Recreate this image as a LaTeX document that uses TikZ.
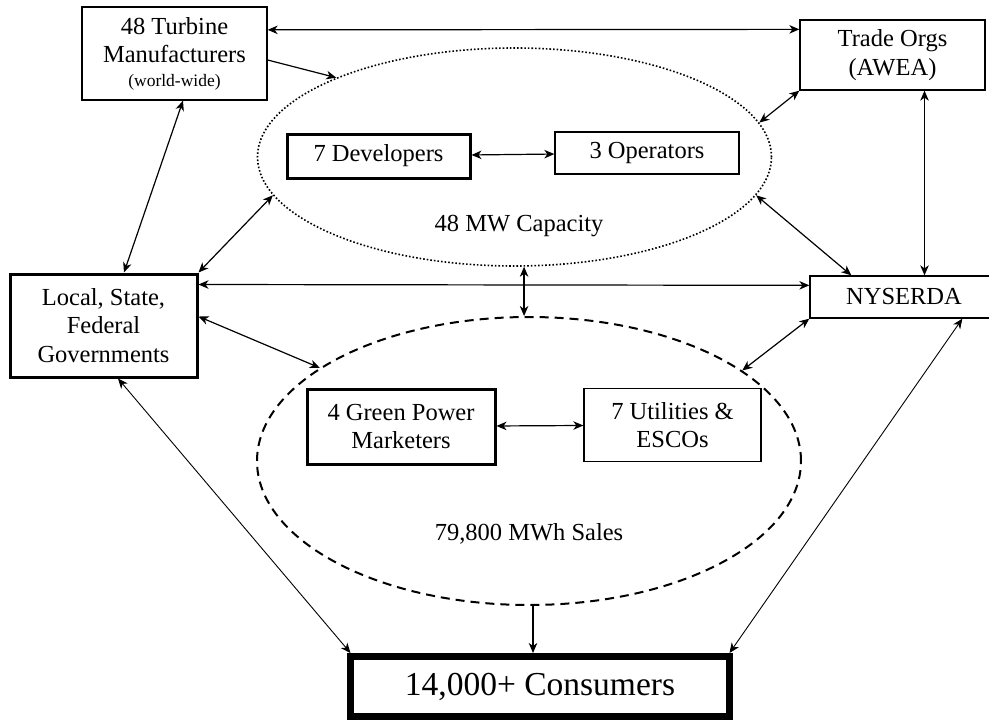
\documentclass[tikz,border=0pt]{standalone}
\usepackage{fontspec}
\setmainfont{Liberation Serif}
\usetikzlibrary{arrows.meta,shapes.geometric}
\begin{document}
\begin{tikzpicture}[x=1pt,y=-1pt,
  box/.style={draw, line width=1.3pt, rectangle, inner sep=0pt, align=center,
     font=\fontsize{24.5}{28.5}\selectfont},
  thickbox/.style={box, line width=3pt},
  conn/.style={line width=1.2pt, {Stealth[length=10pt,width=8.5pt,inset=3pt]}-{Stealth[length=10pt,width=8.5pt,inset=3pt]}},
  oneway/.style={line width=1.2pt, -{Stealth[length=10pt,width=8.5pt,inset=3pt]}},
  lbl/.style={font=\fontsize{24.5}{28.5}\selectfont}
]
\useasboundingbox (0,0) rectangle (989,723);
\fill[white] (0,0) rectangle (989,723);

% ellipses
\node[ellipse, draw, dotted, line width=1.6pt, minimum width=514pt, minimum height=218pt, inner sep=0pt] (ell1) at (514.5,157) {};
\node[ellipse, draw, line width=2pt, dash pattern=on 9pt off 6pt, minimum width=544pt, minimum height=288pt, inner sep=0pt] (ell2) at (529,461) {};

% boxes
\node[box, minimum width=185pt, minimum height=93pt] (turb) at (174.5,53.5)
  {48 Turbine\\Manufacturers\\[-5pt]{\fontsize{17.5}{19}\selectfont (world-wide)}};
\node[box, minimum width=185pt, minimum height=70pt] (trade) at (892.5,55) {Trade Orgs\\(AWEA)};
\node[thickbox, minimum width=183pt, minimum height=44pt] (dev) at (378.5,156) {7 Developers};
\node[box, minimum width=184pt, minimum height=42pt] (ops) at (647,153) {3 Operators};
\node[thickbox, minimum width=187pt, minimum height=103pt] (local) at (103.5,325.5) {Local, State,\\Federal\\Governments};
\node[box, minimum width=188pt, minimum height=42pt] (nys) at (904,297) {NYSERDA};
\node[thickbox, minimum width=188pt, minimum height=75pt] (green) at (401,426.5) {4 Green Power\\Marketers};
\node[box, minimum width=177pt, minimum height=73pt] (util) at (672.5,425) {7 Utilities \&\\ESCOs};
\node[box, line width=7pt, minimum width=379pt, minimum height=60pt, font=\fontsize{33.5}{38}\selectfont] (cons) at (540,686.5) {14,000+ Consumers};

% labels
\node[lbl] (cap) at (519,226) {48 MW Capacity};
\node[lbl] (sales) at (529,534) {79,800 MWh Sales};

% connectors
\draw[conn] ([yshift=-23.5pt]turb.north east) -- ([yshift=-10pt]trade.north west);
\draw[oneway] ([yshift=-6.5pt]turb.east) -- (ell1.156.5);
\draw[conn] ([xshift=8.5pt]turb.south) -- ([xshift=20.5pt]local.north);
\draw[conn] (ell1.189.5) -- (local.north east);
\draw[conn] ([yshift=-12pt]local.north east) -- ([yshift=-10pt]nys.north west);
\draw[conn] (ell1.-85) -- (ell1.-85 |- ell2.north);
\draw[conn] (trade.south west) -- (ell1.8.3);
\draw[conn] ([xshift=32pt]trade.south) -- ([xshift=32pt]trade.south |- nys.north);
\draw[conn] (ell1.-9.3) -- ([xshift=42pt]nys.north west);
\draw[conn] (dev) -- (ops);
\draw[conn] ([yshift=-44pt]local.north east) -- (ell2.156.4);
\draw[conn] (nys.south west) -- (ell2.23.9);
\draw[conn] (green) -- (util);
\draw[conn, line width=0.9pt] ([xshift=14.5pt]local.south) -- ([xshift=3.5pt]cons.north west);
\draw[conn, line width=0.9pt] ([xshift=153pt]nys.south west) -- ([xshift=-3.5pt]cons.north east);
\draw[oneway] ([xshift=4pt]ell2.south) -- ([xshift=4pt]ell2.south |- cons.north);
\end{tikzpicture}
\end{document}
